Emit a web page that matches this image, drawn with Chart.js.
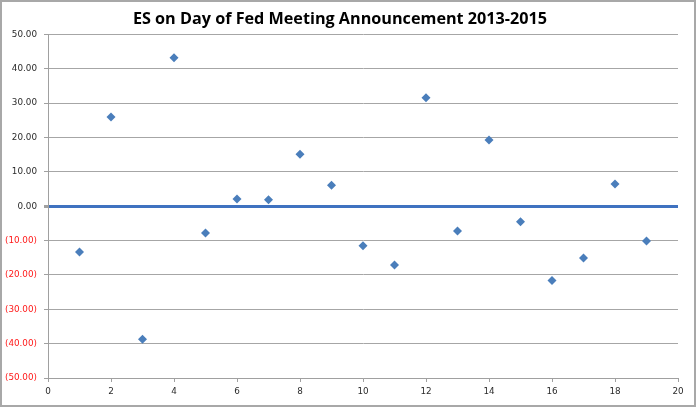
<!DOCTYPE html>
<html>
<head>
<meta charset="utf-8">
<script src="https://cdn.jsdelivr.net/npm/chart.js@4/dist/chart.umd.min.js"></script>
<style>
  html, body { margin: 0; padding: 0; background: #fff; }
  #wrap { width: 696px; height: 407px; box-sizing: border-box; border: 2px solid #a8a8a8; position: relative; }
  #esChart { display: block; }
</style>
</head>
<body>
<div id="wrap"><canvas id="esChart" width="692" height="403"></canvas></div>
<script>
// Fed meeting number vs ES move on the day
const meetings = [1, 2, 3, 4, 5, 6, 7, 8, 9, 10, 11, 12, 13, 14, 15, 16, 17, 18, 19];
const esMoves = [-13.3, 26.0, -38.7, 43.2, -7.8, 2.1, 1.9, 15.1, 6.1, -11.5, -17.1, 31.6, -7.2, 19.3, -4.5, -21.6, -15.1, 6.5, -10.1];
const yTicks = [-50, -40, -30, -20, -10, 0, 10, 20, 30, 40, 50];
const xTicks = [0, 2, 4, 6, 8, 10, 12, 14, 16, 18, 20];

const points = meetings.map((m, i) => ({ x: m, y: esMoves[i] }));

function fmtTick(v) {
    const s = Math.abs(v).toFixed(2);
    return v < 0 ? '(' + s + ')' : s;
}

new Chart(document.getElementById('esChart'), {
    type: 'scatter',
    data: {
        datasets: [{
            label: 'ES',
            data: points,
            pointStyle: 'rectRot',
            pointRadius: 4.5,
            backgroundColor: '#4a7ebb',
            borderColor: '#4a7ebb',
            borderWidth: 0
        }]
    },
    options: {
        responsive: false,
        animation: false,
        layout: { padding: { left: 0, right: 16, top: 0, bottom: 0 } },
        plugins: {
            legend: { display: false },
            tooltip: { enabled: false },
            title: {
                display: true,
                text: 'ES on Day of Fed Meeting Announcement 2013-2015',
                color: '#000',
                font: { family: 'Open Sans', size: 16.2, weight: 'bold' },
                padding: { top: 8, bottom: 5 }
            }
        },
        scales: {
            x: {
                type: 'linear',
                min: 0,
                max: 20,
                afterBuildTicks: scale => { scale.ticks = xTicks.map(v => ({ value: v })); },
                afterFit: scale => { scale.height = 27; },
                grid: { drawOnChartArea: false, drawTicks: true, tickLength: 4, color: '#a0a0a0' },
                border: { display: true, color: '#a0a0a0', width: 1 },
                ticks: {
                    padding: 4,
                    color: '#2b2b2b',
                    font: { family: 'DejaVu Sans', size: 8.8 }
                }
            },
            y: {
                min: -50,
                max: 50,
                afterBuildTicks: scale => { scale.ticks = yTicks.map(v => ({ value: v })); },
                afterFit: scale => { scale.width = 46; },
                grid: {
                    drawTicks: true,
                    tickLength: 4,
                    tickColor: '#a0a0a0',
                    color: ctx => ctx.tick && ctx.tick.value === 0 ? '#3f72c0' : '#a6a6a6',
                    lineWidth: ctx => ctx.tick && ctx.tick.value === 0 ? 3 : 1
                },
                border: { display: true, color: '#a0a0a0', width: 1 },
                ticks: {
                    padding: 7,
                    color: ctx => ctx.tick.value < 0 ? '#ff1a1a' : '#2b2b2b',
                    font: { family: 'DejaVu Sans', size: 8.8 },
                    callback: v => fmtTick(v)
                }
            }
        }
    }
});
</script>
</body>
</html>
